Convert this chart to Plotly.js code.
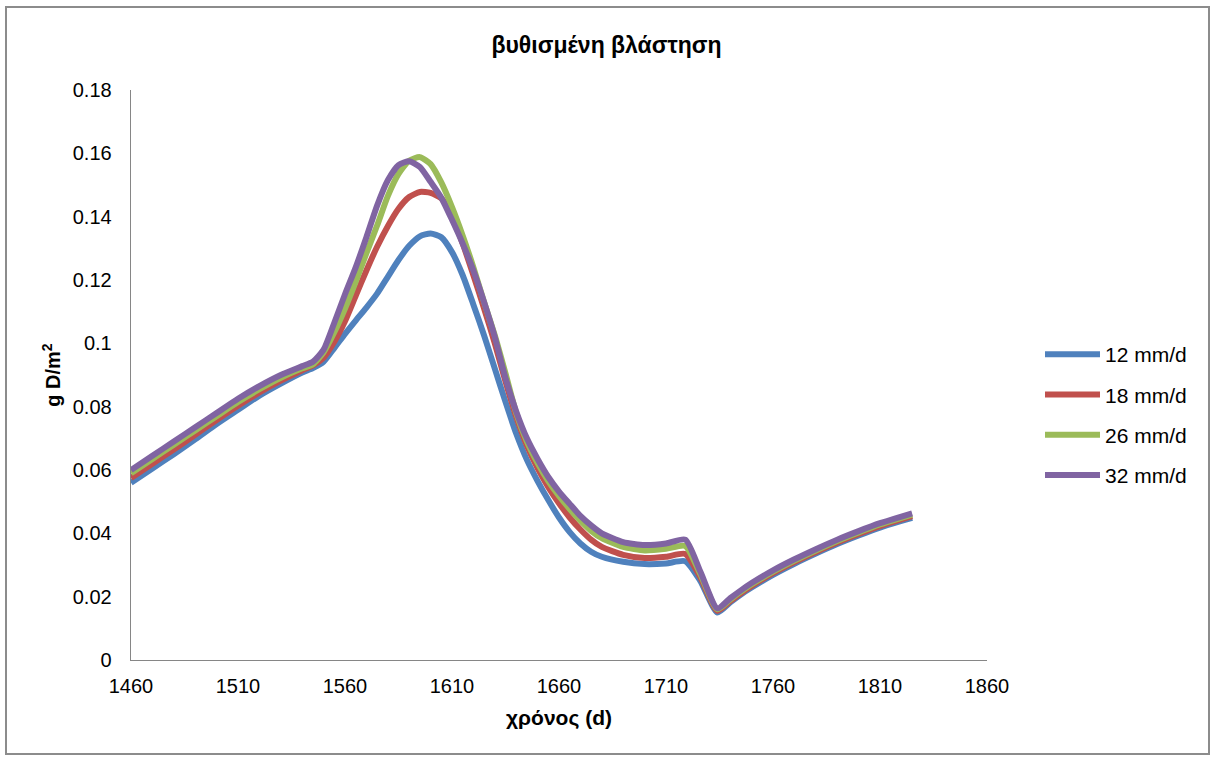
<!DOCTYPE html>
<html>
<head>
<meta charset="utf-8">
<script src="https://cdn.plot.ly/plotly-3.0.1.min.js"></script>
<style>html,body{margin:0;padding:0;background:#fff;}#chart{width:1213px;height:760px;}</style>
</head>
<body>
<div id="chart"></div>
<script>
// Days (x values)
const days = [1460,1470,1480,1490,1500,1510,1520,1530,1540,1545,1550,1555,1560,1565,1570,1575,1580,1585,1590,1595,1600,1605,1610,1615,1620,1625,1630,1635,1640,1645,1650,1655,1660,1665,1670,1675,1680,1690,1700,1710,1719,1726,1734,1740,1745,1750,1760,1770,1780,1790,1800,1810,1820,1825];

const s12 = [0.0560,0.0605,0.0650,0.0697,0.0745,0.0790,0.0835,0.0873,0.0908,0.0922,0.0942,0.0985,0.1030,0.1072,0.1113,0.1157,0.1210,0.1263,0.1308,0.1338,0.1347,0.1335,0.1288,0.1215,0.1122,0.1025,0.0920,0.0815,0.0715,0.0632,0.0565,0.0505,0.0450,0.0404,0.0368,0.0342,0.0326,0.0310,0.0303,0.0305,0.0312,0.0250,0.0150,0.0182,0.0207,0.0229,0.0269,0.0304,0.0336,0.0366,0.0393,0.0418,0.0439,0.0449];
const s18 = [0.0575,0.0620,0.0665,0.0711,0.0758,0.0803,0.0845,0.0882,0.0915,0.0930,0.0955,0.1005,0.1070,0.1150,0.1230,0.1305,0.1370,0.1425,0.1462,0.1478,0.1475,0.1458,0.1405,0.1315,0.1215,0.1110,0.1000,0.0880,0.0768,0.0677,0.0606,0.0546,0.0495,0.0450,0.0412,0.0380,0.0357,0.0332,0.0322,0.0326,0.0335,0.0262,0.0155,0.0186,0.0211,0.0234,0.0274,0.0309,0.0341,0.0371,0.0398,0.0423,0.0444,0.0454];
const s26 = [0.0590,0.0635,0.0680,0.0725,0.0770,0.0815,0.0855,0.0891,0.0921,0.0934,0.0972,0.1035,0.1110,0.1195,0.1285,0.1372,0.1465,0.1535,0.1577,0.1588,0.1566,0.1508,0.1430,0.1340,0.1240,0.1130,0.1025,0.0905,0.0780,0.0690,0.0622,0.0565,0.0518,0.0477,0.0440,0.0408,0.0385,0.0357,0.0346,0.0351,0.0360,0.0272,0.0160,0.0191,0.0216,0.0239,0.0279,0.0314,0.0346,0.0376,0.0403,0.0428,0.0449,0.0459];
const s32 = [0.0600,0.0645,0.0690,0.0735,0.0780,0.0825,0.0865,0.0900,0.0928,0.0942,0.0980,0.1065,0.1155,0.1240,0.1335,0.1435,0.1515,0.1563,0.1575,0.1557,0.1510,0.1460,0.1390,0.1315,0.1230,0.1130,0.1020,0.0890,0.0785,0.0700,0.0635,0.0578,0.0532,0.0493,0.0455,0.0425,0.0400,0.0372,0.0363,0.0368,0.0380,0.0280,0.0163,0.0195,0.0220,0.0243,0.0283,0.0318,0.0350,0.0380,0.0407,0.0432,0.0453,0.0463];

const seriesNames = ['12 mm/d','18 mm/d','26 mm/d','32 mm/d'];
const seriesValues = [s12, s18, s26, s32];
const seriesColors = ['#4F81BD','#C0504D','#9BBB59','#8064A2'];

// Tick labels
const yTickVals = [0,0.02,0.04,0.06,0.08,0.1,0.12,0.14,0.16,0.18];
const yTickText = ['0','0.02','0.04','0.06','0.08','0.1','0.12','0.14','0.16','0.18'];
const xTickVals = [1460,1510,1560,1610,1660,1710,1760,1810,1860];
const xTickText = ['1460','1510','1560','1610','1660','1710','1760','1810','1860'];

const traces = seriesValues.map((v, i) => ({
  x: days, y: v, type: 'scatter', mode: 'lines', name: seriesNames[i],
  legendgroup: 'g' + i,
  line: {color: seriesColors[i], width: 6, shape: 'spline', smoothing: 0.6}
}));

// pixel helpers (plot area: x 131..987, y 90..660)
const L = 131, R = 987, T = 90, B = 660;
const px = v => (v - L) / (R - L);
const py = v => (B - v) / (B - T);

const FONT = 'Liberation Sans, Arial, sans-serif';
const layout = {
  width: 1213, height: 760,
  margin: {l: L, r: 1213 - R, t: T, b: 760 - B, pad: 0},
  paper_bgcolor: '#fff', plot_bgcolor: '#fff',
  font: {family: FONT, size: 20, color: '#000'},
  title: {text: '<b>βυθισμένη βλάστηση</b>', font: {family: FONT, size: 23, color: '#000'}, x: 0.5, xanchor: 'center', y: 1 - 45/760, yanchor: 'middle'},
  xaxis: {
    range: [1460, 1860], tickmode: 'array', tickvals: xTickVals, ticktext: xTickText,
    showgrid: false, zeroline: false,
    showline: true, linecolor: '#868686', linewidth: 1.3, ticks: '',
    tickfont: {family: FONT, size: 20, color: '#000'}, ticklabelstandoff: 8,
    title: {text: '<b>χρόνος (d)</b>', font: {family: FONT, size: 21, color: '#000'}, standoff: 14}
  },
  yaxis: {
    range: [0, 0.18], tickmode: 'array', tickvals: yTickVals, ticktext: yTickText,
    showgrid: false, zeroline: false,
    showline: true, linecolor: '#868686', linewidth: 1.3, ticks: '',
    tickfont: {family: FONT, size: 20, color: '#000'}, ticklabelstandoff: 14,
    title: {text: '<b>g D/m<sup>2</sup></b>', font: {family: FONT, size: 20, color: '#000'}, standoff: 6}
  },
  legend: {
    x: px(1040), y: py(334), xanchor: 'left', yanchor: 'top',
    font: {family: FONT, size: 21, color: '#000'},
    bgcolor: 'rgba(0,0,0,0)', tracegroupgap: 10, itemwidth: 55
  },
  showlegend: true,
  shapes: [{
    type: 'rect', xref: 'paper', yref: 'paper',
    x0: px(6), x1: px(1209), y0: py(754), y1: py(7),
    line: {color: '#8c8c8c', width: 2}, fillcolor: 'rgba(0,0,0,0)', layer: 'below'
  }]
};

Plotly.newPlot('chart', traces, layout, {displayModeBar: false, staticPlot: true});
</script>
</body>
</html>
